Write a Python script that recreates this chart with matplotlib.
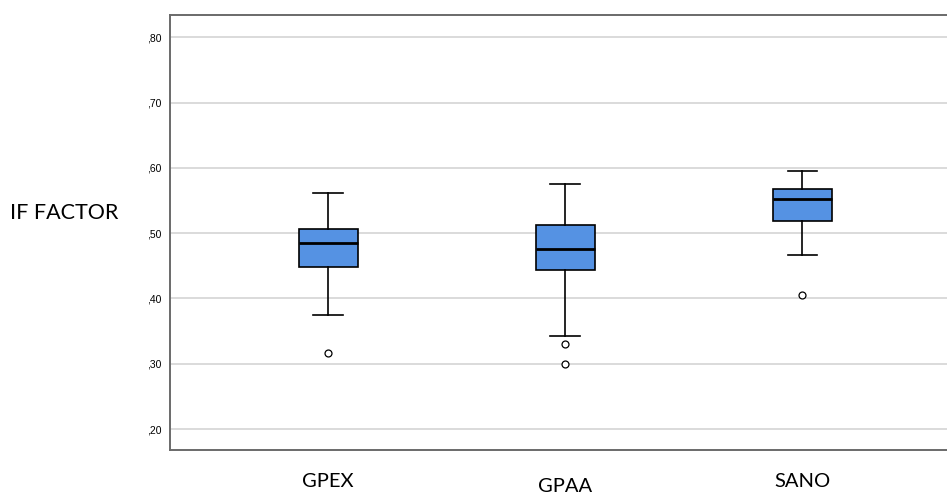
import matplotlib.pyplot as plt

groups = ["GPEX", "GPAA", "SANO"]
whis_lo = [0.374, 0.342, 0.466]
q1 = [0.448, 0.443, 0.518]
med = [0.485, 0.475, 0.553]
q3 = [0.507, 0.512, 0.567]
whis_hi = [0.561, 0.576, 0.595]
outliers = [[0.316], [0.331, 0.300], [0.406]]

yticks = [0.2, 0.3, 0.4, 0.5, 0.6, 0.7, 0.8]
ytick_labels = [",20", ",30", ",40", ",50", ",60", ",70", ",80"]

stats = []
for i, g in enumerate(groups):
    stats.append(dict(label=g, whislo=whis_lo[i], q1=q1[i], med=med[i],
                      q3=q3[i], whishi=whis_hi[i], fliers=outliers[i]))

fig = plt.figure(figsize=(9.47, 4.93), dpi=100)
ax = fig.add_axes([170 / 947, 43 / 493, 1 - 170 / 947, 435 / 493])

ax.bxp(stats, positions=[1, 2, 3], widths=0.25, patch_artist=True,
       boxprops=dict(facecolor="#5592e3", edgecolor="black", linewidth=1.2),
       medianprops=dict(color="black", linewidth=2),
       whiskerprops=dict(color="black", linewidth=1.2),
       capprops=dict(color="black", linewidth=1.2),
       capwidths=0.125,
       flierprops=dict(marker="o", markerfacecolor="white", markeredgecolor="black",
                       markersize=5, markeredgewidth=0.9),
       zorder=3)

ax.set_xlim(0.333, 3.61)
ax.set_ylim(0.168, 0.834)
ax.set_yticks(yticks)
ax.set_yticklabels(ytick_labels, fontsize=7.5, family="Liberation Sans")
ax.tick_params(axis="y", length=0, pad=6)
ax.set_xticks([])
ax.yaxis.grid(True, color="#d4d4d4", linewidth=1.2)
ax.set_axisbelow(True)

for s in ["left", "top", "bottom"]:
    ax.spines[s].set_color("#6a6a6a")
    ax.spines[s].set_linewidth(1.4)
ax.spines["right"].set_visible(False)

# category labels (GPAA sits a bit lower in the original)
label_y = [-0.072, -0.083, -0.072]
for i, g in enumerate(groups):
    ax.text(i + 1, label_y[i], g, transform=ax.get_xaxis_transform(),
            ha="center", va="center", fontsize=14.5, family="Lato")

fig.text(10 / 947, 1 - 213 / 493, "IF FACTOR", ha="left", va="center",
         fontsize=15.5, family="Lato")

fig.savefig("out.png", dpi=100)
